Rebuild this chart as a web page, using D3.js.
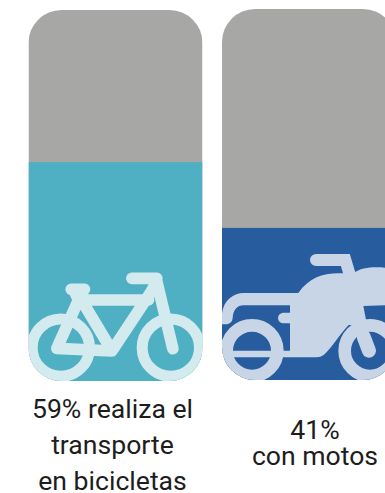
<!DOCTYPE html>
<html lang="es">
<head>
<meta charset="utf-8">
<script src="https://cdn.jsdelivr.net/npm/d3@7/dist/d3.min.js"></script>
<style>
html,body{margin:0;padding:0;background:#fff;overflow:hidden}
svg{display:block}
text{font-family:Roboto,sans-serif;fill:#1d1d1d;text-anchor:middle}
</style>
</head>
<body>
<div id="chart"></div>
<script>
const categories = ["bicicletas", "motos"];
const shares = [59, 41];
const fillColors = ["#50b0c3", "#275c9e"];
const iconColors = ["#d3eaef", "#c8d5e6"];
const labelLines = [["59% realiza el", "transporte", "en bicicletas"], ["41%", "con motos"]];
const labelBaselines = [[418, 454, 490], [439, 465]];
const labelCenters = [112.5, 315];
const labelSize = 26.6;

const width = 385, height = 493;
const cardWidth = 174, cardHeight = 371, cardRadius = 33;
const cardLeft = d3.scaleOrdinal().domain(categories).range([28.5, 222]);
const cardTop = d3.scaleOrdinal().domain(categories).range([10, 9]);
const fillHeight = d3.scaleLinear().domain([0, 100]).range([0, cardHeight]);

const svg = d3.select("#chart").append("svg").attr("width", width).attr("height", height);
const defs = svg.append("defs");

// Icons are authored at three units per pixel, origin at the card's bottom-left corner.
const iconDrawers = {
  bicicletas(g, color) {
    g.selectAll("circle").data([[97, -100], [427, -100]]).join("circle")
      .attr("cx", d => d[0]).attr("cy", d => d[1]).attr("r", 86)
      .attr("fill", "none").attr("stroke", color).attr("stroke-width", 33);
    g.append("path")
      .attr("d", "M128,-275H168 M310,-308H385 M135,-275L150,-243L85,-98L250,-90L365,-263L385,-298L433,-97 M150,-243H360 M155,-250L245,-100")
      .attr("fill", "none").attr("stroke", color).attr("stroke-width", 35)
      .attr("stroke-linecap", "round").attr("stroke-linejoin", "round");
  },
  motos(g, color) {
    g.selectAll("circle").data([[90, -88], [444, -88]]).join("circle")
      .attr("cx", d => d[0]).attr("cy", d => d[1]).attr("r", 76)
      .attr("fill", "none").attr("stroke", color).attr("stroke-width", 38);
    g.append("path").attr("fill", color)
      .attr("d", "M0,-167V-200C5,-240 35,-261 65,-261H229C260,-305 300,-320 350,-320H394C420,-340 460,-340 500,-336V-225L424,-222L435,-165L380,-165C355,-140 325,-90 305,-75Q295,-68 285,-68H0V-88H204V-173H204V-224H65C45,-224 33,-210 32,-185Q30,-170 15,-167Z");
    g.append("path").attr("fill", "none").attr("stroke", color).attr("stroke-linecap", "round")
      .attr("stroke-width", 36)
      .attr("d", "M282,-360H370L388,-300");
    g.append("path").attr("fill", "none").attr("stroke", color).attr("stroke-linecap", "round")
      .attr("stroke-width", 32)
      .attr("d", "M184,-186H215");
    g.append("path").attr("fill", "none").attr("stroke", color).attr("stroke-linecap", "round")
      .attr("stroke-width", 42)
      .attr("d", "M425,-130L441,-88");
  }
};

const cards = svg.selectAll("g.card").data(categories).join("g")
  .attr("class", "card")
  .attr("transform", d => `translate(${cardLeft(d)},${cardTop(d)})`);

cards.each(function (d, i) {
  const clipId = `clip-${d}`;
  defs.append("clipPath").attr("id", clipId).append("rect")
    .attr("width", cardWidth).attr("height", cardHeight).attr("rx", cardRadius).attr("ry", cardRadius);

  const card = d3.select(this).append("g").attr("clip-path", `url(#${clipId})`);
  card.append("rect").attr("width", cardWidth).attr("height", cardHeight).attr("fill", "#a7a7a5");
  const h = fillHeight(shares[i]);
  card.append("rect").attr("y", cardHeight - h).attr("width", cardWidth).attr("height", h).attr("fill", fillColors[i]);

  const icon = card.append("g").attr("transform", `translate(0,${cardHeight}) scale(${1 / 3})`);
  iconDrawers[d](icon, iconColors[i]);
});

// Caption under each card.
svg.selectAll("g.caption").data(categories).join("g")
  .attr("class", "caption")
  .each(function (d, i) {
    d3.select(this).selectAll("text").data(labelLines[i]).join("text")
      .attr("x", labelCenters[i])
      .attr("y", (_, j) => labelBaselines[i][j])
      .attr("font-size", labelSize)
      .text(t => t);
  });
</script>
</body>
</html>
